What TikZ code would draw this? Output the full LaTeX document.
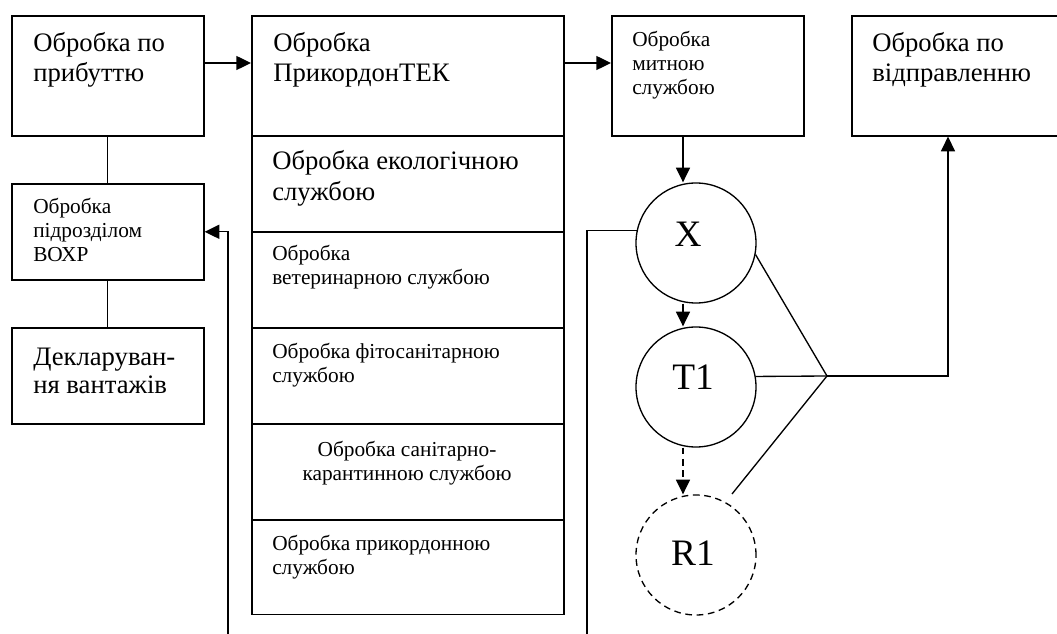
\documentclass[tikz,border=0pt]{standalone}
\usepackage{fontspec}
\setmainfont{Liberation Serif}
\usetikzlibrary{arrows.meta,calc}

% Positions are given in pixels (1px = 0.75pt), y growing downwards.
% Text nodes are anchored at the baseline of their last line.
\tikzset{
  blk/.style={draw, line width=1.2pt, rectangle, inner sep=0pt, anchor=north west},
  circ/.style={draw, line width=1pt, circle, inner sep=0pt, minimum size=90pt},
  bigtxt/.style={font=\fontsize{20}{22.9}\selectfont, align=left, anchor=base west, inner sep=0pt},
  smalltxt/.style={font=\fontsize{16}{18.3}\selectfont, align=left, anchor=base west, inner sep=0pt},
  lettxt/.style={font=\fontsize{28}{32}\selectfont, anchor=base, inner sep=0pt},
  conn/.style={line width=1pt},
  arr/.style={conn, -{Triangle[length=11pt,width=10.5pt]}},
  dashes/.style={dash pattern=on 5pt off 3.5pt},
}

\begin{document}
\begin{tikzpicture}[x=0.75pt, y=-0.75pt]
\useasboundingbox (0,0) rectangle (1057,634);

% left column
\node[blk, minimum width=144pt, minimum height=90pt] (arr1) at (11,15) {};
\node[blk, minimum width=144pt, minimum height=72pt] (vohr) at (11,183) {};
\node[blk, minimum width=144pt, minimum height=72pt] (decl) at (11,327) {};

% services column
\node[blk, minimum width=234pt, minimum height=90pt] (pk)   at (251,15)  {};
\node[blk, minimum width=234pt, minimum height=72pt] (eco)  at (251,135) {};
\node[blk, minimum width=234pt, minimum height=72pt] (vet)  at (251,231) {};
\node[blk, minimum width=234pt, minimum height=72pt] (fito) at (251,327) {};
\node[blk, minimum width=234pt, minimum height=72pt] (san)  at (251,423) {};
\node[blk, minimum width=234pt, minimum height=71pt] (bord) at (251,519) {};

% customs and departure
\node[blk, minimum width=144pt, minimum height=90pt] (cust) at (611,15) {};
\node[blk, minimum width=165pt, minimum height=90pt] (dep)  at (851,15) {};

% circles
\node[circ] (X)  at (696,243) {};
\node[circ] (T1) at (696,387) {};
\node[circ, dashes] (R1) at (696,555) {};

% texts
\node[bigtxt] (tarr1) at (33,82) {Обробка по\\прибуттю};
\node[smalltxt] (tvohr) at (33,262) {Обробка\\підрозділом\\ВОХР};
\node[bigtxt, font=\fontsize{20}{21}\selectfont] (tdecl) at (33,394) {Декларуван-\\ня вантажів};
\node[bigtxt] (tpk) at (273,82) {Обробка\\ПрикордонТЕК};
\node[bigtxt] (teco) at (272,200.5) {Обробка екологічною\\службою};
\node[smalltxt] (tvet) at (272,284.5) {Обробка\\ветеринарною службою};
\node[smalltxt] (tfito) at (272,382.5) {Обробка фітосанітарною\\службою};
\node[smalltxt, align=center, anchor=base] (tsan) at (407,480.5) {Обробка санітарно-\\карантинною службою};
\node[smalltxt] (tbord) at (272,574.5) {Обробка прикордонною\\службою};
\node[smalltxt] (tcust) at (632,95) {Обробка\\митною\\службою};
\node[bigtxt] (tdep) at (872,82) {Обробка по\\відправленню};
\node[lettxt] (tX)  at (688,247) {X};
\node[lettxt] (tT1) at (693,390) {T1};
\node[lettxt] (tR1) at (693,565) {R1};

% helper points
\coordinate (rowY) at (0,63);
\coordinate (axX) at (683,0);
\coordinate (J) at (827,376);
\coordinate (fbL) at (228,634);
\coordinate (fbR) at (587,634);
\coordinate (upX) at (948,0);

% connectors
\draw[arr] (arr1.east |- rowY) -- (pk.west |- rowY);
\draw[arr] (pk.east |- rowY) -- (cust.west |- rowY);
\draw[conn] (arr1.south) -- (vohr.north);
\draw[conn] (vohr.south) -- (decl.north);
\draw[arr] (cust.south -| axX) -- (X.north -| axX);
\draw[arr] (X.south -| axX) -- (T1.north -| axX);
\draw[arr, dashes] (T1.south -| axX) -- (R1.north -| axX);
\draw[conn] (X.168.5) -| (fbR);
\draw[arr] (fbL) |- (vohr.east);
\draw[conn] (X.-11.3) -- (J);
\draw[conn] (T1.10.6) -- (J);
\draw[conn] ($(R1.center)+(36,-61)$) -- (J);
\draw[arr] (J) -| (dep.south -| upX);
\end{tikzpicture}
\end{document}
